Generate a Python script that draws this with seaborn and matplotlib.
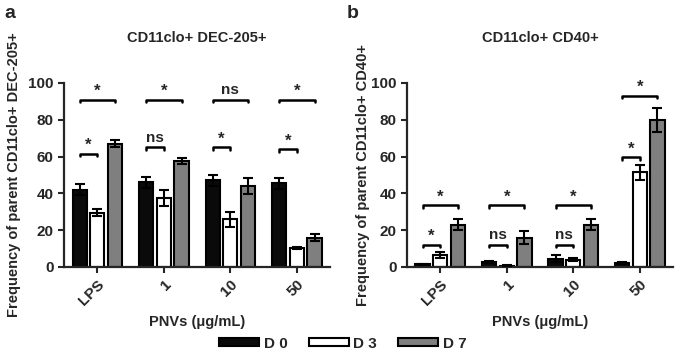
import pandas as pd
import seaborn as sns
import matplotlib.pyplot as plt
from matplotlib.patches import Patch

# --- datos ---
concs = ["LPS", "1", "10", "50"]
days = ["D 0", "D 3", "D 7"]

# panel a: CD11clo+ DEC-205+
dec_d0 = [42.0, 46.0, 47.0, 45.5]
dec_d3 = [29.5, 37.5, 26.0, 10.5]
dec_d7 = [67.0, 57.5, 44.0, 16.0]
dec_err_d0 = [3.0, 3.0, 3.0, 3.0]
dec_err_d3 = [1.8, 4.5, 4.0, 0.5]
dec_err_d7 = [2.0, 1.5, 4.5, 2.0]
dec_short_sig = ["*", "ns", "*", "*"]
dec_short_y = [61.5, 65.0, 65.0, 64.0]
dec_long_sig = ["*", "*", "ns", "*"]
dec_long_y = [91.0, 91.0, 91.0, 91.0]

# panel b: CD11clo+ CD40+
cd40_d0 = [1.5, 2.5, 4.5, 2.0]
cd40_d3 = [6.5, 0.8, 4.0, 51.5]
cd40_d7 = [23.0, 16.0, 23.0, 80.0]
cd40_err_d0 = [0.3, 0.5, 2.0, 0.5]
cd40_err_d3 = [1.5, 0.3, 1.0, 4.0]
cd40_err_d7 = [3.0, 3.5, 3.0, 6.5]
cd40_short_sig = ["*", "ns", "ns", "*"]
cd40_short_y = [12.0, 12.0, 12.0, 59.5]
cd40_long_sig = ["*", "*", "*", "*"]
cd40_long_y = [33.5, 33.5, 33.5, 93.0]

colors = ["#0a0a0a", "#ffffff", "#7f7f7f"]

sns.set_theme(style="ticks")
plt.rcParams["font.family"] = ["Liberation Sans", "DejaVu Sans"]
plt.rcParams["font.weight"] = "bold"
plt.rcParams["axes.linewidth"] = 1.6


def make_df(d0, d3, d7):
    rows = []
    for vals, day in zip([d0, d3, d7], days):
        for c, v in zip(concs, vals):
            rows.append({"conc": c, "day": day, "value": v})
    return pd.DataFrame(rows)


def draw_panel(ax, df, errs, short_sig, short_y, long_sig, long_y, title, ylabel, ylab_x):
    sns.barplot(data=df, x="conc", y="value", hue="day", palette=colors,
                errorbar=None, edgecolor="black", linewidth=1.5, width=0.8,
                gap=0.2, legend=False, ax=ax)
    centers = []
    for cont, err in zip(ax.containers, errs):
        xs = [b.get_x() + b.get_width() / 2 for b in cont]
        ys = [b.get_height() for b in cont]
        ax.errorbar(xs, ys, yerr=err, fmt="none", ecolor="black",
                    elinewidth=1.5, capsize=3.5, capthick=1.5, zorder=3)
        centers.append(xs)
    tick = 1.3
    for i in range(len(concs)):
        x0, x3, x7 = centers[0][i], centers[1][i], centers[2][i]
        for xa, xb, y, s in [(x0, x3, short_y[i], short_sig[i]),
                             (x0, x7, long_y[i], long_sig[i])]:
            ax.plot([xa, xa, xb, xb], [y - tick, y, y, y - tick],
                    color="black", lw=1.8, clip_on=False)
            if s == "*":
                ax.text((xa + xb) / 2, y + 0.5, s, ha="center", va="bottom",
                        fontsize=12, fontweight="bold")
            else:
                ax.text((xa + xb) / 2, y + 1.5, s, ha="center", va="bottom",
                        fontsize=11, fontweight="bold")
    ax.set_ylim(0, 100)
    ax.set_xlim(-0.5, 3.5)
    ax.set_yticks([0, 20, 40, 60, 80, 100])
    ax.tick_params(axis="both", direction="out", length=4, width=1.5,
                   labelsize=11)
    for lab in ax.get_yticklabels():
        lab.set_fontweight("bold")
    plt.setp(ax.get_xticklabels(), rotation=45, ha="right",
             rotation_mode="anchor", fontweight="bold")
    ax.set_xlabel("")
    ax.set_ylabel("")
    ax.text(0.5, 1.245, title, transform=ax.transAxes, ha="center",
            va="center", fontsize=10.5, fontweight="bold")
    ax.text(ylab_x, 0.5, ylabel, transform=ax.transAxes, ha="center",
            va="center", rotation=90, fontsize=10.5, fontweight="bold")
    ax.text(0.5, -0.30, "PNVs (\u03bcg/mL)", transform=ax.transAxes,
            ha="center", va="center", fontsize=10.5, fontweight="bold")
    sns.despine(ax=ax)


fig = plt.figure(figsize=(6.75, 3.56), dpi=100)
ax_a = fig.add_axes([0.095, 0.25, 0.394, 0.517])
ax_b = fig.add_axes([0.603, 0.25, 0.394, 0.517])

draw_panel(ax_a, make_df(dec_d0, dec_d3, dec_d7),
           [dec_err_d0, dec_err_d3, dec_err_d7],
           dec_short_sig, dec_short_y, dec_long_sig, dec_long_y,
           "CD11clo+ DEC-205+", "Frequency of parent CD11clo+ DEC-205+", -0.19)
draw_panel(ax_b, make_df(cd40_d0, cd40_d3, cd40_d7),
           [cd40_err_d0, cd40_err_d3, cd40_err_d7],
           cd40_short_sig, cd40_short_y, cd40_long_sig, cd40_long_y,
           "CD11clo+ CD40+", "Frequency of parent CD11clo+ CD40+", -0.165)

fig.text(0.006, 0.985, "a", fontsize=14, fontweight="bold", va="top")
fig.text(0.513, 0.985, "b", fontsize=14, fontweight="bold", va="top")

handles = [Patch(facecolor=c, edgecolor="black", linewidth=1.5, label=d)
           for c, d in zip(colors, days)]
fig.legend(handles=handles, loc="center", bbox_to_anchor=(0.508, 0.035),
           ncol=3, frameon=False, handlelength=2.6, handleheight=0.45,
           columnspacing=1.4, handletextpad=0.3,
           prop={"size": 11, "weight": "bold"})

fig.savefig("out.png", dpi=100)
